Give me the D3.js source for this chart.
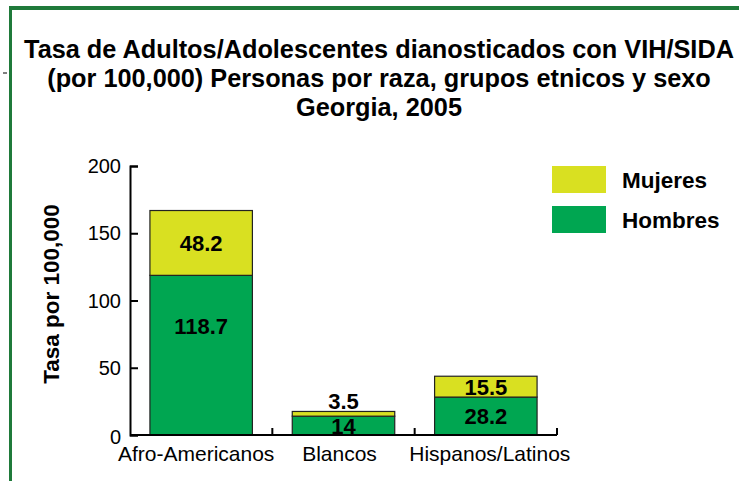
<!DOCTYPE html>
<html>
<head lang="es">
    <meta charset="UTF-8">
    <title>Tasa VIH/SIDA Georgia 2005</title>
    <style>
        body { margin: 0; background: #fff; }
        text { font-family: 'Liberation Sans', Arial, sans-serif; }
    </style>
</head>
<body>
<script src="https://cdn.jsdelivr.net/npm/d3@7"></script>
<script>

    var categories = ['Afro-Americanos', 'Blancos', 'Hispanos/Latinos'];
    var hombres = [118.7, 14, 28.2];
    var mujeres = [48.2, 3.5, 15.5];
    var yTicks = [0, 50, 100, 150, 200];
    var seriesNames = ['Mujeres', 'Hombres'];

    var w = 739,
        h = 481;
    var colHombres = '#00a651',
        colMujeres = '#d9e021';
    // small horizontal nudges of category labels, as in the original
    var labelShift = [-5, -4, 4];

    var svg = d3.select('body')
            .append('svg')
            .attr('width', w)
            .attr('height', h);

    // frame (green border, top + left)
    svg.append('rect').attr('x', 9).attr('y', 6).attr('width', w - 9).attr('height', 4).attr('fill', '#1f7a3a');
    svg.append('rect').attr('x', 9).attr('y', 6).attr('width', 3).attr('height', h - 6).attr('fill', '#1f7a3a');
    svg.append('line').attr('x1', 3).attr('x2', 7).attr('y1', 73).attr('y2', 73).attr('stroke', '#000');

    // title
    var title = ['Tasa de Adultos/Adolescentes dianosticados con VIH/SIDA',
                 '(por 100,000) Personas por raza, grupos etnicos y sexo',
                 'Georgia, 2005'];
    svg.selectAll('text.title')
            .data(title)
            .enter()
            .append('text')
            .attr('class', 'title')
            .attr('x', 379)
            .attr('y', function(d, i) { return 58 + i * 29; })
            .attr('text-anchor', 'middle')
            .attr('font-size', '25.3px')
            .attr('font-weight', 'bold')
            .text(function(d) { return d; });

    var x = d3.scaleBand()
            .domain(categories)
            .range([130, 557])
            .paddingInner(0.28)
            .paddingOuter(0.14);

    var y = d3.scaleLinear()
            .domain([0, 200])
            .range([435, 166]);

    // y axis
    var yAxis = svg.append('g')
            .attr('transform', 'translate(130,0)')
            .call(d3.axisRight(y).tickValues(yTicks).tickSize(8).tickFormat(''));
    yAxis.select('.domain').attr('stroke', '#000').attr('stroke-width', 2);
    yAxis.selectAll('.tick line').attr('stroke', '#000').attr('stroke-width', 2);

    svg.selectAll('text.ytick')
            .data(yTicks)
            .enter()
            .append('text')
            .attr('class', 'ytick')
            .attr('x', 121)
            .attr('y', function(d) { return y(d) + (d === 0 ? 9 : 7); })
            .attr('text-anchor', 'end')
            .attr('font-size', '20px')
            .text(function(d) { return d; });

    svg.append('text')
            .attr('transform', 'translate(59,294) rotate(-90)')
            .attr('text-anchor', 'middle')
            .attr('font-size', '22.5px')
            .attr('font-weight', 'bold')
            .text('Tasa por 100,000');

    // bars
    var g = svg.append('g');
    g.selectAll('rect.hombres')
            .data(hombres)
            .enter()
            .append('rect')
            .attr('x', function(d, i) { return x(categories[i]); })
            .attr('y', function(d) { return y(d); })
            .attr('width', x.bandwidth())
            .attr('height', function(d) { return y(0) - y(d); })
            .attr('fill', colHombres)
            .attr('stroke', '#222')
            .attr('stroke-width', 1.2);

    g.selectAll('rect.mujeres')
            .data(mujeres)
            .enter()
            .append('rect')
            .attr('x', function(d, i) { return x(categories[i]); })
            .attr('y', function(d, i) { return y(d + hombres[i]); })
            .attr('width', x.bandwidth())
            .attr('height', function(d, i) { return y(hombres[i]) - y(d + hombres[i]); })
            .attr('fill', colMujeres)
            .attr('stroke', '#222')
            .attr('stroke-width', 1.2);

    // x axis (drawn over bars)
    svg.append('line')
            .attr('x1', 130).attr('x2', 557)
            .attr('y1', 435).attr('y2', 435)
            .attr('stroke', '#000').attr('stroke-width', 2);
    svg.selectAll('line.xtick')
            .data(categories)
            .enter()
            .append('line')
            .attr('x1', function(d) { return x(d) + x.bandwidth() + x.step() * 0.14; })
            .attr('x2', function(d) { return x(d) + x.bandwidth() + x.step() * 0.14; })
            .attr('y1', 435).attr('y2', 428)
            .attr('stroke', '#000').attr('stroke-width', 2);

    svg.selectAll('text.xlab')
            .data(categories)
            .enter()
            .append('text')
            .attr('x', function(d, i) { return x(d) + x.bandwidth() / 2 + labelShift[i]; })
            .attr('y', 461)
            .attr('text-anchor', 'middle')
            .attr('font-size', '21px')
            .text(function(d) { return d; });

    // value labels
    svg.selectAll('text.vh')
            .data(hombres)
            .enter()
            .append('text')
            .attr('x', function(d, i) { return x(categories[i]) + x.bandwidth() / 2; })
            .attr('y', function(d) {
                var mid = (y(d) + y(0)) / 2;
                return Math.min(mid, y(d) + 51) + 8;
            })
            .attr('text-anchor', 'middle')
            .attr('font-size', '22px')
            .attr('font-weight', 'bold')
            .text(function(d) { return d; });

    svg.selectAll('text.vm')
            .data(mujeres)
            .enter()
            .append('text')
            .attr('x', function(d, i) { return x(categories[i]) + x.bandwidth() / 2; })
            .attr('y', function(d, i) {
                var top = y(d + hombres[i]), bot = y(hombres[i]);
                if (bot - top < 12) return top - 2;
                return (top + bot) / 2 + 8;
            })
            .attr('text-anchor', 'middle')
            .attr('font-size', '22px')
            .attr('font-weight', 'bold')
            .text(function(d) { return d; });

    // legend
    var leg = svg.selectAll('g.leg')
            .data(seriesNames)
            .enter()
            .append('g')
            .attr('transform', function(d, i) { return 'translate(552,' + (166 + i * 40) + ')'; });
    leg.append('rect')
            .attr('width', 54)
            .attr('height', 27)
            .attr('fill', function(d, i) { return i === 0 ? colMujeres : colHombres; });
    leg.append('text')
            .attr('x', 70)
            .attr('y', 22)
            .attr('font-size', '22.5px')
            .attr('font-weight', 'bold')
            .text(function(d) { return d; });

</script>
</body>
</html>
